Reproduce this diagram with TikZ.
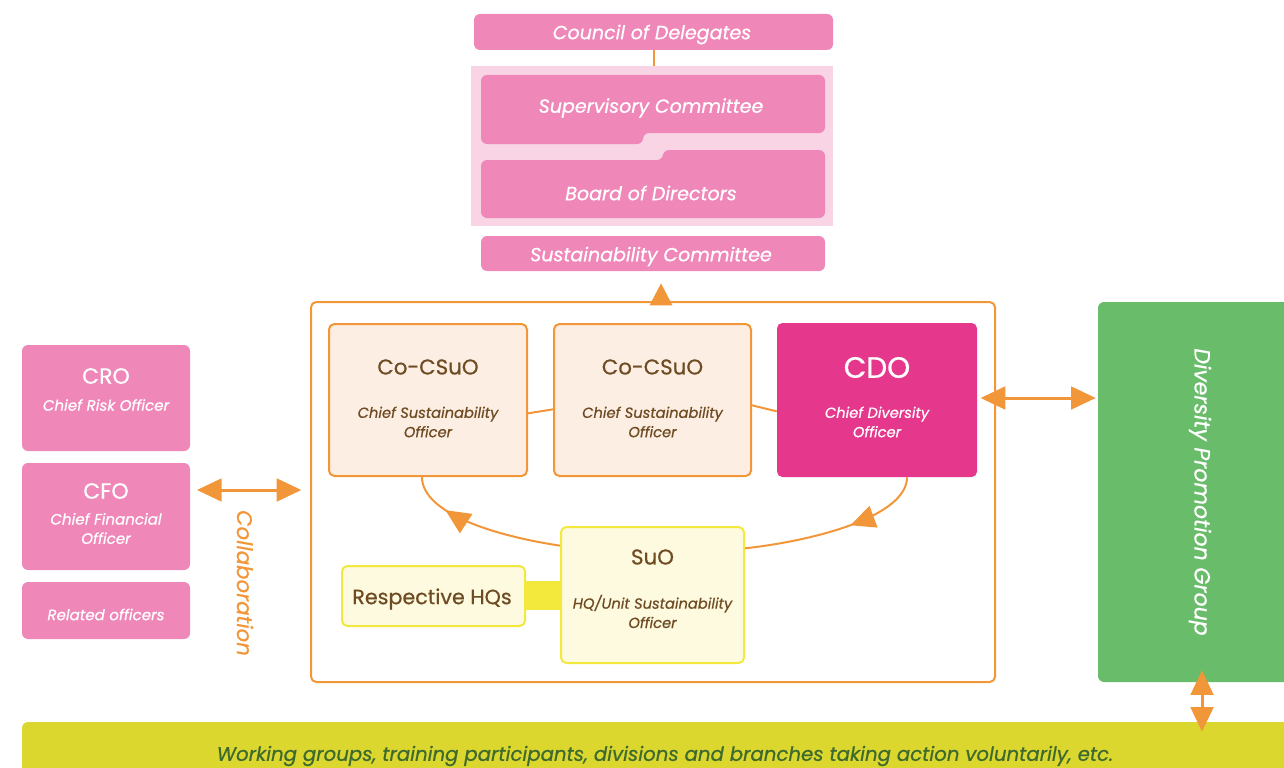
\documentclass[tikz,border=0pt]{standalone}
\usepackage{fontspec}
\setmainfont{Poppins}[FakeBold=0.6]
\usetikzlibrary{arrows.meta,decorations.markings,calc}

\definecolor{pinkbox}{HTML}{F087B9}
\definecolor{pinkbg}{HTML}{F8D4E5}
\definecolor{orng}{HTML}{F2963A}
\definecolor{peach}{HTML}{FCEEE2}
\definecolor{magenta}{HTML}{E5388C}
\definecolor{brown}{HTML}{6E4B22}
\definecolor{yelborder}{HTML}{F3E93C}
\definecolor{yelfill}{HTML}{FDFAE0}
\definecolor{grn}{HTML}{69BC69}
\definecolor{band}{HTML}{DCD72E}
\definecolor{darkgrn}{HTML}{3E6A2D}

\begin{document}
\begin{tikzpicture}[x=0.75pt,y=-0.75pt,
  sz/.style 2 args={minimum width=#1*0.75pt, minimum height=#2*0.75pt, inner sep=0pt},
  pinkrect/.style={fill=pinkbox, rounded corners=4.5pt},
  whitetext/.style={text=white, font=\fontsize{14.3}{16}\selectfont\itshape},
  peachbox/.style={fill=peach, draw=orng, line width=1.5pt, rounded corners=4pt},
  yelbox/.style={fill=yelfill, draw=yelborder, line width=1.5pt, rounded corners=4pt},
  titletext/.style={font=\fontsize{16}{18}\selectfont, text=brown},
  subtext/.style={font=\fontsize{11}{14.5}\selectfont\itshape, text=brown, align=center},
  sidetitle/.style={font=\fontsize{16.5}{18}\selectfont, text=white},
  sidesub/.style={font=\fontsize{11.3}{14.5}\selectfont\itshape, text=white, align=center},
  conn/.style={draw=orng, line width=2.25pt},
  dbl/.style={conn, {Triangle[length=18.5pt, width=17pt]}-{Triangle[length=18.5pt, width=17pt]}},
  midarrow/.style={postaction={decorate}, decoration={markings,
     mark=at position #1 with {\arrow{Triangle[length=18.5pt, width=17pt]}}}}
]
\useasboundingbox (0,0) rectangle (1284,767);
\clip (0,0) rectangle (1284,767);

% ---------- governance column ----------
\node[pinkrect, sz={359}{36}] (council) at (653.5,32) {};
\node[whitetext] (councilt) at (652,34.5) {Council of Delegates};
\node[fill=pinkbg, sz={362}{160}] (govbg) at (652,146) {};
\draw[orng, line width=1.5pt] (council.south) -- (council.south |- govbg.north);

\fill[pinkbox, rounded corners=4.5pt]
  (481,75) -- (825,75) -- (825,133) -- (643,133) -- (643,144) -- (481,144) -- cycle;
\node[whitetext] (sup) at (651,108) {Supervisory Committee};
\fill[pinkbox, rounded corners=4.5pt]
  (481,160) -- (663,160) -- (663,150) -- (825,150) -- (825,218) -- (481,218) -- cycle;
\node[whitetext] (board) at (651,193) {Board of Directors};

\node[pinkrect, sz={344}{35}] (sust) at (653,253.5) {};
\node[whitetext] (sustt) at (651,256.5) {Sustainability Committee};

% ---------- sustainability framework ----------
\node[draw=orng, line width=1.5pt, rounded corners=4pt, sz={684}{380}] (frame) at (653,492) {};
\draw[conn, -{Triangle[length=16.5pt, width=16.5pt]}, shorten >=9pt]
  (frame.north -| 661,0) -- (sust.south -| 661,0);

\node[peachbox, sz={198}{152}] (co1) at (428,400) {};
\node[peachbox, sz={197}{152}] (co2) at (652.5,400) {};
\node[fill=magenta, rounded corners=4pt, sz={200}{154}] (cdo) at (877,400) {};

\node[titletext] (co1t) at ($(co1.center)+(0,-33)$) {Co-CSuO};
\node[subtext] (co1s) at ($(co1.center)+(0,22)$) {Chief Sustainability\\Officer};
\node[titletext] (co2t) at ($(co2.center)+(0,-33)$) {Co-CSuO};
\node[subtext] (co2s) at ($(co2.center)+(0,22)$) {Chief Sustainability\\Officer};
\node[font=\fontsize{22}{24}\selectfont, text=white] (cdot) at ($(cdo.center)+(0,-32.5)$) {CDO};
\node[subtext, text=white] (cdos) at ($(cdo.center)+(0,22)$) {Chief Diversity\\Officer};

\draw[orng, line width=1.5pt] ([yshift=-10pt]co1.east) -- ([yshift=-7pt]co2.west);
\draw[orng, line width=1.5pt] ([yshift=-4pt]co2.east) -- ([yshift=-8.5pt]cdo.west);

\node[yelbox, sz={183}{136}] (suo) at (652.5,595) {};
\node[titletext] (suot) at ($(suo.center)+(0,-38)$) {SuO};
\node[subtext] (suos) at ($(suo.center)+(0,16.5)$) {HQ/Unit Sustainability\\Officer};

\node[yelbox, sz={183}{60}] (hqs) at (433.5,596) {};
\node[titletext, font=\fontsize{15.5}{17}\selectfont] (hqst) at (432,599) {Respective HQs};
\fill[yelborder] (hqs.east |- 0,581) rectangle (suo.west |- 0,610);

% cycle between the officers
\draw[orng, line width=1.5pt, midarrow=0.74]
  ([yshift=37pt]suo.west) .. controls (490,535) and (422,512) .. (co1.south -| 422,0);
\draw[orng, line width=1.5pt, midarrow=0.42]
  (cdo.south -| 907,0) .. controls (907,515) and (820,540) .. ([yshift=35pt]suo.east);

% ---------- diversity promotion group ----------
\node[fill=grn, rounded corners=4.5pt, sz={208}{380}] (dpg) at (1202,492) {};
\node[rotate=-90, text=white, font=\fontsize{16.5}{18}\selectfont\itshape] (dpgt) at (1200,492) {Diversity Promotion Group};
\coordinate (ylink) at (0,398);
\draw[dbl, shorten <=2.5pt, shorten >=1.5pt] (cdo.east |- ylink) -- (dpg.west |- ylink);

% ---------- bottom band ----------
\node[fill=band, rounded corners=4.5pt, sz={1286}{64}] (band) at (665,754) {};
\node[text=darkgrn, font=\fontsize{14.8}{16}\selectfont\itshape] (bandt) at (665,756) {Working groups, training participants, divisions and branches taking action voluntarily, etc.};
\draw[dbl, shorten <=-9pt, shorten >=-7.5pt] (dpg.south -| 1202,0) -- (band.north -| 1202,0);

% ---------- related officers ----------
\node[pinkrect, sz={168}{106}] (cro) at (106,398) {};
\node[sidetitle] (crot) at ($(cro.center)+(0,-22)$) {CRO};
\node[sidesub] (cros) at ($(cro.center)+(0,7)$) {Chief Risk Officer};
\node[pinkrect, sz={168}{107}] (cfo) at (106,516.5) {};
\node[sidetitle] (cfot) at ($(cfo.center)+(0,-25.5)$) {CFO};
\node[sidesub] (cfos) at ($(cfo.center)+(0,12)$) {Chief Financial\\Officer};
\node[pinkrect, sz={168}{57}] (rel) at (106,610.5) {};
\node[sidesub] (relt) at ($(rel.center)+(0,4)$) {Related officers};

\coordinate (ycollab) at (0,490);
\draw[dbl, shorten <=5pt, shorten >=6.5pt] (cfo.east |- ycollab) -- (frame.west |- ycollab);
\node[rotate=-90, text=orng, font=\fontsize{16}{18}\selectfont\itshape] (collab) at (245,583) {Collaboration};
\end{tikzpicture}
\end{document}
